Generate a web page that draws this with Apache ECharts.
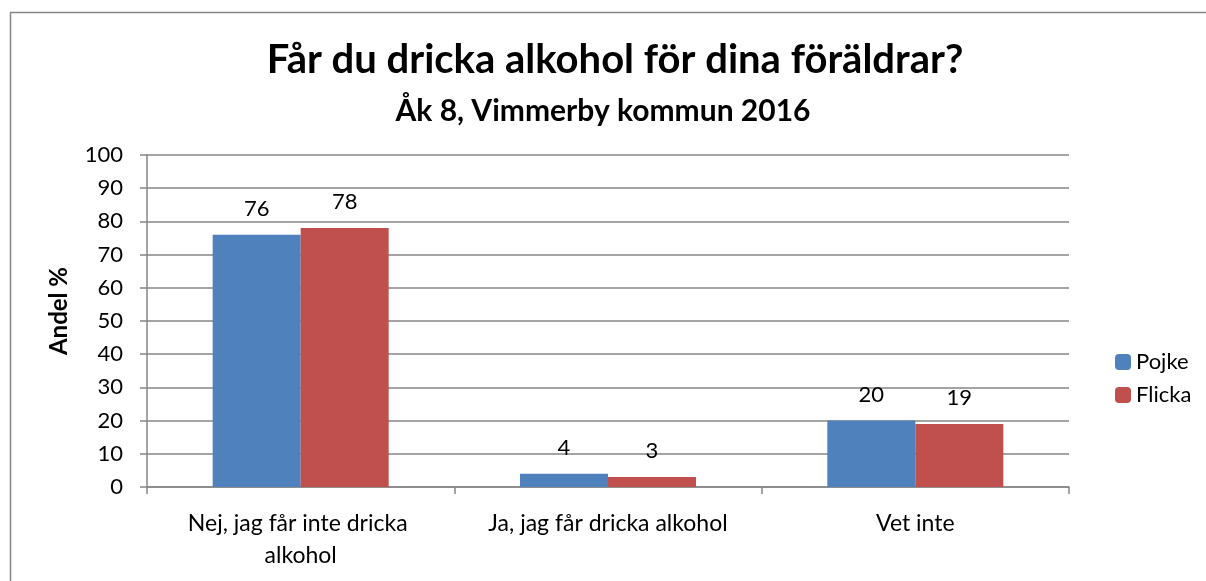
<!DOCTYPE html>
<html>
<head>
<meta charset="utf-8">
<script src="https://cdn.jsdelivr.net/npm/echarts@6/dist/echarts.min.js"></script>
<style>
  html, body { margin: 0; padding: 0; background: #fff; }
  #chart { width: 1206px; height: 581px; }
</style>
</head>
<body>
<div id="chart"></div>
<script>
// Svar per kön, Åk 8, Vimmerby kommun 2016 (andel %)
const categories = ['Nej, jag får inte dricka alkohol', 'Ja, jag får dricka alkohol', 'Vet inte'];
const pojke = [76, 4, 20];
const flicka = [78, 3, 19];
const yTicks = { min: 0, max: 100, interval: 10 };

const FONT = 'Lato, "Open Sans", sans-serif';
const GRAY = '#868686';

const chart = echarts.init(document.getElementById('chart'));
chart.setOption({
  animation: false,
  textStyle: { fontFamily: FONT },
  graphic: [{
    type: 'rect',
    left: 8, top: 10,
    shape: { width: 1300, height: 700 },
    style: { fill: 'none', stroke: GRAY, lineWidth: 1.5 },
    z: -1
  }],
  title: [{
    text: 'Får du dricka alkohol för dina föräldrar?',
    left: 610, top: 35, textAlign: 'center',
    textStyle: { fontFamily: FONT, fontSize: 40, fontWeight: 'bold', color: '#000' }
  }, {
    text: 'Åk 8, Vimmerby kommun 2016',
    left: 'center', top: 91,
    textStyle: { fontFamily: FONT, fontSize: 30, fontWeight: 'bold', color: '#000' }
  }],
  legend: {
    orient: 'vertical',
    left: 1110, top: 346,
    itemWidth: 16, itemHeight: 16,
    itemGap: 11,
    textStyle: { fontFamily: FONT, fontSize: 22, color: '#000' },
    data: ['Pojke', 'Flicka']
  },
  grid: { left: 147, right: 137, top: 155, bottom: 94 },
  xAxis: {
    type: 'category',
    data: categories,
    axisLine: { lineStyle: { color: GRAY, width: 1.5 } },
    axisTick: { show: true, length: 7, lineStyle: { color: GRAY, width: 1.5 } },
    axisLabel: {
      fontFamily: FONT, fontSize: 23, color: '#000', margin: 21,
      lineHeight: 32, width: 265, overflow: 'break', interval: 0
    }
  },
  yAxis: {
    type: 'value',
    min: yTicks.min, max: yTicks.max, interval: yTicks.interval,
    name: 'Andel %',
    nameLocation: 'middle',
    nameGap: 76,
    nameTextStyle: { fontFamily: FONT, fontSize: 24, fontWeight: 'bold', color: '#000', padding: [0, 0, 0, 20] },
    axisLine: { show: true, lineStyle: { color: GRAY, width: 1.5 } },
    axisTick: { show: true, length: 7, lineStyle: { color: GRAY, width: 1.5 } },
    axisLabel: { fontFamily: FONT, fontSize: 22, color: '#000', margin: 24 },
    splitLine: { lineStyle: { color: GRAY, width: 1.5 } }
  },
  series: [{
    name: 'Pojke', type: 'bar', data: pojke,
    barWidth: 88, barGap: '0%',
    itemStyle: { color: '#4f81bd' },
    label: { show: true, position: 'top', distance: 15, fontFamily: FONT, fontSize: 22, color: '#000' }
  }, {
    name: 'Flicka', type: 'bar', data: flicka,
    barWidth: 88,
    itemStyle: { color: '#c0504d' },
    label: { show: true, position: 'top', distance: 15, fontFamily: FONT, fontSize: 22, color: '#000' }
  }]
});
</script>
</body>
</html>
